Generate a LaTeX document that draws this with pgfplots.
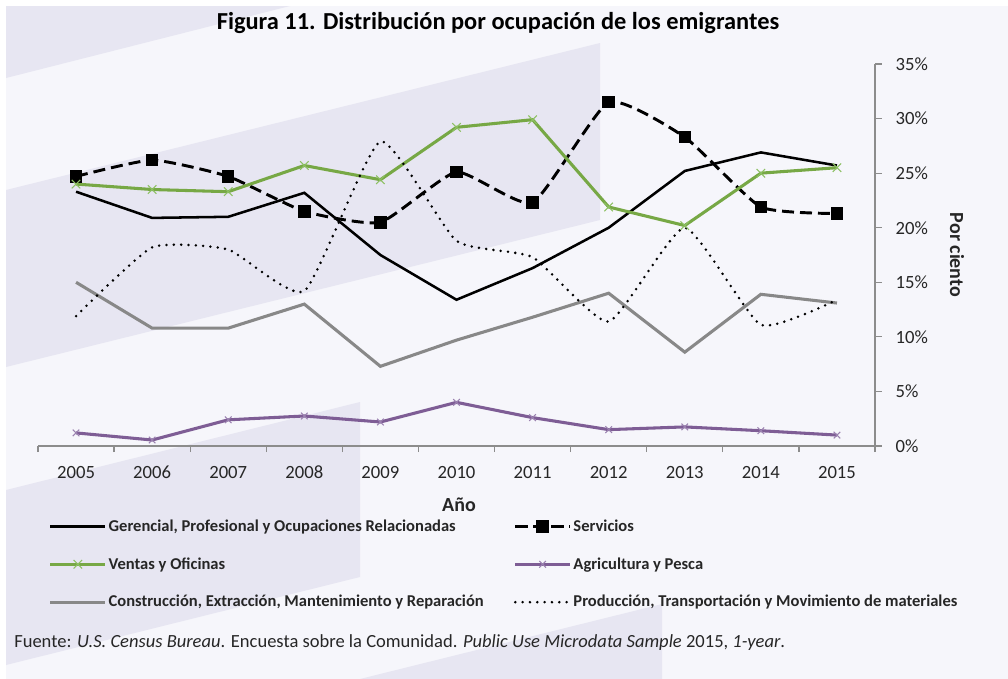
\documentclass[border=0pt]{standalone}
\usepackage{pgfplots}
\pgfplotsset{compat=1.18}
\usepackage{fontspec}
\setmainfont{Carlito}[Numbers={Lining}]
\definecolor{bg}{HTML}{F6F6FB}
\definecolor{band}{HTML}{E7E6F2}
\definecolor{vgreen}{HTML}{77A845}
\definecolor{vgreenm}{HTML}{8DC063}
\definecolor{apurple}{HTML}{7E5D95}
\definecolor{apurplem}{HTML}{9B82B0}
\definecolor{cgray}{HTML}{888888}
\definecolor{axgray}{HTML}{8C8C8C}
\definecolor{txt}{HTML}{262626}
\begin{document}
\begin{tikzpicture}
\begin{scope}[x=0.75pt,y=-0.75pt]
\fill[white] (0,0) rectangle (1008,679);
\fill[bg] (6,6) rectangle (1008,679);
\fill[band] (6,6) -- (290,6) -- (6,78) -- cycle;
\fill[band] (6,190) -- (600,43) -- (600,220) -- (6,367) -- cycle;
\fill[band] (6,490) -- (360,402) -- (360,577) -- (6,665) -- cycle;
\fill[band] (360,679) -- (662,604) -- (662,679) -- cycle;
\node[font=\bfseries\fontsize{18.3}{21}\selectfont, text=black] at (498,23) {Figura 11. Distribución por ocupación de los emigrantes};
\node[font=\fontsize{13.9}{16}\selectfont, text=txt, anchor=west, inner sep=0pt] at (14,643) {Fuente: \textit{U.S. Census Bureau}. Encuesta sobre la Comunidad. \textit{Public Use Microdata Sample} 2015, \textit{1-year}.};
\end{scope}
\begin{axis}[
  at={(28.5pt,-334.5pt)}, anchor=south west,
  scale only axis, width=627.75pt, height=286.5pt,
  xmin=-0.5, xmax=10.5, ymin=0, ymax=35,
  axis x line=bottom, axis y line=right,
  axis line style={axgray, line width=0.9pt, -},
  tick align=outside,
  xtick={0,...,10},
  xticklabels={2005,2006,2007,2008,2009,2010,2011,2012,2013,2014,2015},
  minor xtick={-0.5,0.5,...,10.5},
  major x tick style={draw=none},
  minor x tick style={axgray, line width=0.9pt},
  minor tick length=4.5pt,
  ytick={0,5,...,35},
  yticklabels={0\%,5\%,10\%,15\%,20\%,25\%,30\%,35\%},
  y tick style={axgray, line width=0.9pt},
  major tick length=5pt,
  /pgf/number format/assume math mode=true,
  x tick label style={font=\fontsize{14}{16}\selectfont, text=txt, text height=9pt, text depth=0pt, anchor=north, yshift=-6.5pt},
  y tick label style={font=\fontsize{14}{16}\selectfont, text=txt, xshift=7pt},
  xlabel={\textbf{Año}},
  xlabel style={at={(axis description cs:0.503,-0.155)}, anchor=center, font=\fontsize{15}{17}\selectfont, text=txt},
  ylabel={\textbf{Por ciento}},
  ylabel style={at={(axis description cs:1.098,0.5)}, anchor=center, rotate=180, font=\fontsize{15}{17}\selectfont, text=txt},
  legend columns=2,
  legend cell align=left,
  legend style={at={(axis description cs:0.008,-0.178)}, anchor=north west, draw=none, fill=none,
    font=\bfseries\fontsize{12.4}{14}\selectfont, text=txt, row sep=14.2pt,
    nodes={inner xsep=1.5pt},
    /tikz/every even column/.append style={column sep=21pt}},
  legend image code/.code={\draw[mark repeat=2,mark phase=2,#1] plot coordinates {(0pt,0pt) (20.5pt,0pt) (41pt,0pt)};},
]
\addplot[black, line width=1.9pt] coordinates {
(0,23.3) (1,20.9) (2,21.0) (3,23.2) (4,17.5) (5,13.4) (6,16.3) (7,20.0) (8,25.2) (9,26.9) (10,25.7)};
\addlegendentry{Gerencial, Profesional y Ocupaciones Relacionadas}
\addplot[black, line width=2.2pt, dash pattern=on 9pt off 4.5pt, smooth, tension=0.3, mark=square*, mark size=3.6pt, mark options={solid}] coordinates {
(0,24.7) (1,26.2) (2,24.7) (3,21.5) (4,20.5) (5,25.1) (6,22.3) (7,31.5) (8,28.3) (9,21.9) (10,21.3)};
\addlegendentry{Servicios}
\addplot[vgreen, line width=2.3pt, mark=x, mark size=4.5pt, mark options={vgreenm, line width=0.8pt}] coordinates {
(0,24.0) (1,23.5) (2,23.3) (3,25.7) (4,24.4) (5,29.2) (6,29.9) (7,21.9) (8,20.2) (9,25.0) (10,25.5)};
\addlegendentry{Ventas y Oficinas}
\addplot[apurple, line width=2.3pt, mark=x, mark size=3.5pt, mark options={apurplem, line width=0.8pt}] coordinates {
(0,1.2) (1,0.55) (2,2.4) (3,2.75) (4,2.2) (5,4.0) (6,2.6) (7,1.5) (8,1.75) (9,1.4) (10,1.0)};
\addlegendentry{Agricultura y Pesca}
\addplot[cgray, line width=2.3pt] coordinates {
(0,15.0) (1,10.8) (2,10.8) (3,13.0) (4,7.3) (5,9.7) (6,11.8) (7,14.0) (8,8.6) (9,13.9) (10,13.1)};
\addlegendentry{Construcción, Extracción, Mantenimiento y Reparación}
\addplot[black, line width=2.1pt, dash pattern=on 0pt off 5.5pt, line cap=round, smooth, tension=0.3] coordinates {
(0,11.9) (1,18.2) (2,18.0) (3,14.2) (4,27.9) (5,18.8) (6,17.3) (7,11.4) (8,20.0) (9,11.1) (10,13.4)};
\addlegendentry{Producción, Transportación y Movimiento de materiales}
\end{axis}
\end{tikzpicture}
\end{document}
